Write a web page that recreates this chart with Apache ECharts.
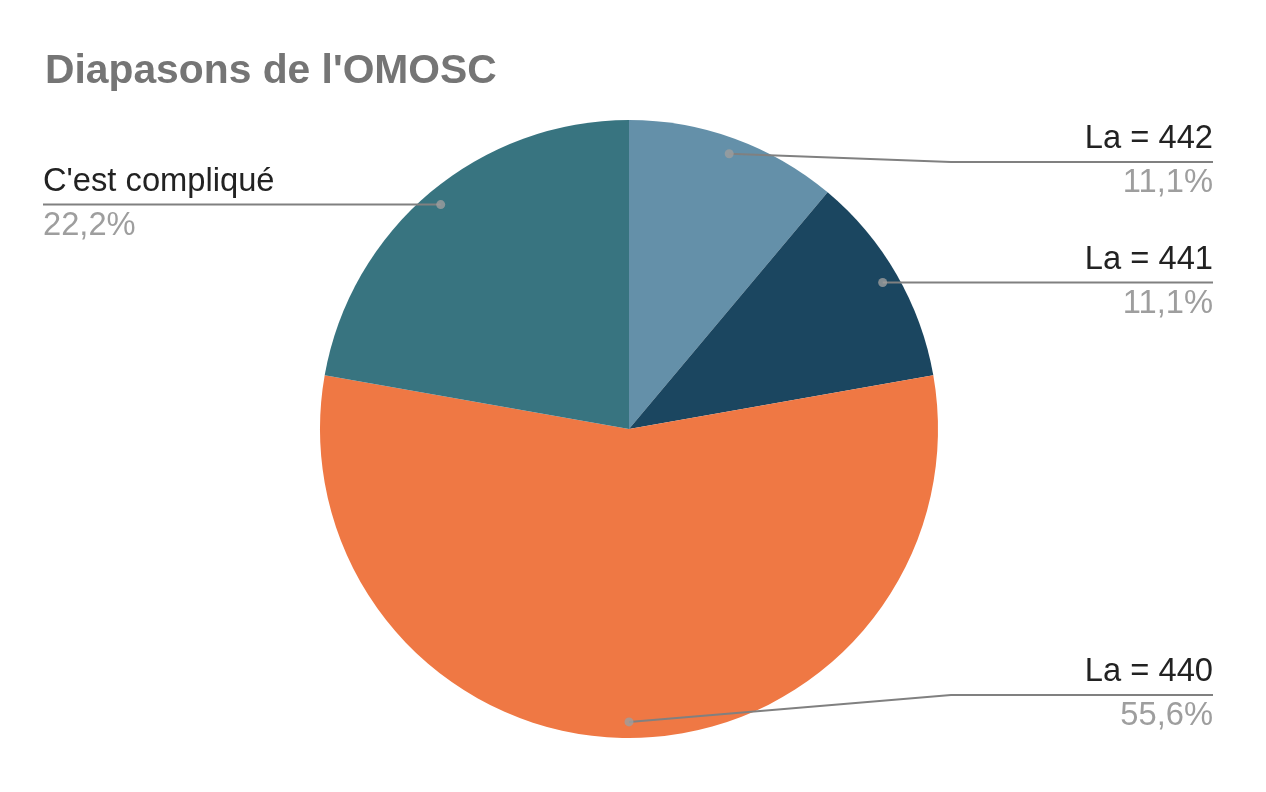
<!DOCTYPE html>
<html>
<head>
<meta charset="utf-8">
<script src="https://cdn.jsdelivr.net/npm/echarts@6/dist/echarts.min.js"></script>
<style>
html,body{margin:0;padding:0;background:#fff;}
#chart{width:1266px;height:792px;}
</style>
</head>
<body>
<div id="chart"></div>
<script>
const categories = ["La = 442", "La = 441", "La = 440", "C'est compliqué"];
const values = [1, 1, 5, 2];
const colors = ["#6490a9", "#1b4660", "#ef7844", "#387480"];
const titleText = "Diapasons de l'OMOSC";

const CX = 629, CY = 429, R = 309, DOT = 0.948;
const FONT = "'Liberation Sans', Arial, sans-serif";
const W = 1266;

const total = values.reduce((a, b) => a + b, 0);
let acc = 0;
const dotData = values.map(v => { const mid = acc + v / 2; acc += v; return [DOT, mid]; });

const chart = echarts.init(document.getElementById('chart'), null, {renderer: 'canvas'});

const pieBase = {
  type: 'pie',
  center: [CX, CY],
  radius: R,
  startAngle: 90,
  clockwise: true,
  avoidLabelOverlap: false,
  silent: true,
  emphasis: {disabled: true},
  percentPrecision: 1
};

chart.setOption({
  backgroundColor: '#ffffff',
  animation: false,
  title: {
    text: titleText,
    left: 40, top: 46,
    textStyle: {fontFamily: FONT, fontSize: 40.8, fontWeight: 'bold', color: '#757575'}
  },
  polar: {center: [CX, CY], radius: R},
  angleAxis: {type: 'value', min: 0, max: total, startAngle: 90, clockwise: true, show: false,
    axisLine: {show: false}, splitLine: {show: false}, axisLabel: {show: false}, axisTick: {show: false}},
  radiusAxis: {type: 'value', min: 0, max: 1, show: false,
    axisLine: {show: false}, splitLine: {show: false}, axisLabel: {show: false}, axisTick: {show: false}},
  series: [
    Object.assign({}, pieBase, {
      z: 2,
      data: categories.map((c, i) => ({name: c, value: values[i], itemStyle: {color: colors[i]}})),
      itemStyle: {borderWidth: 0},
      label: {show: false},
      labelLine: {show: false}
    }),
    Object.assign({}, pieBase, {
      z: 5,
      data: categories.map((c, i) => ({name: c, value: values[i]})),
      itemStyle: {color: 'rgba(0,0,0,0)', borderWidth: 0},
      label: {
        show: true,
        position: 'outside',
        formatter: p => '{n|' + p.name + '}\n{p|' + p.percent.toFixed(1).replace('.', ',') + '%}',
        rich: {
          n: {fontFamily: FONT, fontSize: 32.7, color: '#222222', lineHeight: 42},
          p: {fontFamily: FONT, fontSize: 32.7, color: '#9e9e9e', lineHeight: 46}
        }
      },
      labelLine: {show: true, showAbove: true, length: 10, length2: 10, smooth: false, lineStyle: {color: '#808080', width: 2}},
      labelLayout: function (p) {
        const pts = p.labelLinePoints;
        if (!pts) return {};
        const s = pts[0];
        const dx = s[0] - CX, dy = s[1] - CY;
        const len = Math.hypot(dx, dy) || 1;
        const start = [CX + dx / len * R * DOT, CY + dy / len * R * DOT];
        const right = dx >= 0;
        const ly = Math.min(Math.max(start[1], CY - R + 42), CY + R - 43);
        const bendX = right ? CX + R + 13 : CX - R - 13;
        const endX = right ? W - 53 : 43;
        return {
          x: endX, y: ly,
          align: right ? 'right' : 'left',
          verticalAlign: 'middle',
          labelLinePoints: [start, [bendX, ly], [endX, ly]]
        };
      }
    }),
    {
      type: 'scatter',
      coordinateSystem: 'polar',
      data: dotData,
      symbol: 'circle',
      symbolSize: 9,
      itemStyle: {color: '#9e9e9e'},
      silent: true,
      z: 10
    }
  ]
});
</script>
</body>
</html>
